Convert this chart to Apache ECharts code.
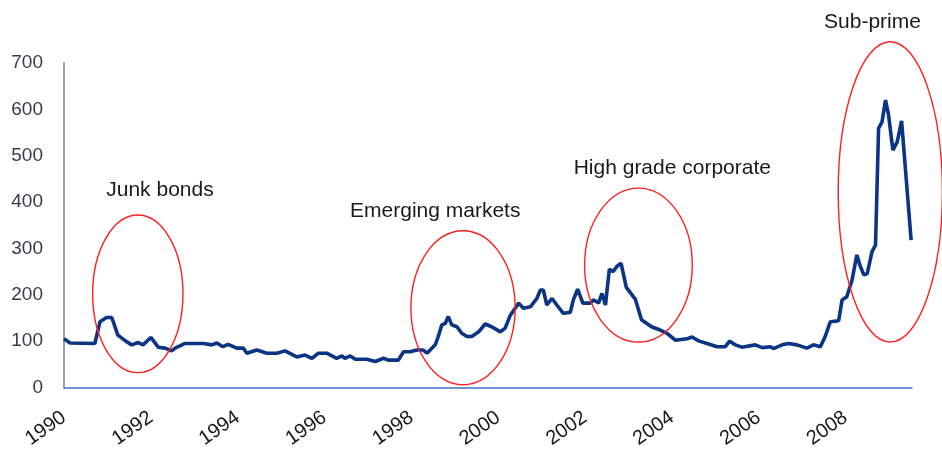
<!DOCTYPE html>
<html>
<head>
<meta charset="utf-8">
<script src="https://cdn.jsdelivr.net/npm/echarts@6/dist/echarts.min.js"></script>
<style>
  html, body { margin: 0; padding: 0; background: #fff; }
  #chart { width: 942px; height: 451px; }
</style>
</head>
<body>
<div id="chart"></div>
<script>
// Credit spread (basis points), sampled as decimal years
const dates = [
  1990.00, 1990.05, 1990.14, 1990.71, 1990.83, 1990.98, 1991.10, 1991.24, 1991.44, 1991.56,
  1991.71, 1991.82, 1992.00, 1992.17, 1992.33, 1992.48, 1992.56, 1992.79, 1993.21, 1993.40,
  1993.52, 1993.66, 1993.78, 1993.98, 1994.13, 1994.21, 1994.44, 1994.67, 1994.90, 1995.09,
  1995.36, 1995.55, 1995.71, 1995.86, 1996.05, 1996.28, 1996.40, 1996.47, 1996.59, 1996.71,
  1996.97, 1997.17, 1997.36, 1997.47, 1997.70, 1997.82, 1997.97, 1998.13, 1998.27, 1998.36,
  1998.55, 1998.62, 1998.70, 1998.78, 1998.85, 1998.93, 1999.05, 1999.16, 1999.28, 1999.39,
  1999.55, 1999.70, 1999.85, 2000.05, 2000.16, 2000.28, 2000.39, 2000.47, 2000.58, 2000.74,
  2000.89, 2000.97, 2001.04, 2001.12, 2001.24, 2001.35, 2001.50, 2001.66, 2001.73, 2001.83,
  2001.95, 2002.12, 2002.20, 2002.31, 2002.39, 2002.47, 2002.56, 2002.65, 2002.73, 2002.83,
  2002.95, 2003.16, 2003.30, 2003.53, 2003.73, 2003.89, 2004.08, 2004.35, 2004.46, 2004.63,
  2004.81, 2005.04, 2005.23, 2005.33, 2005.46, 2005.61, 2005.92, 2006.08, 2006.27, 2006.34,
  2006.54, 2006.69, 2006.88, 2007.11, 2007.26, 2007.42, 2007.53, 2007.65, 2007.84, 2007.92,
  2008.03, 2008.15, 2008.26, 2008.33, 2008.42, 2008.50, 2008.61, 2008.69, 2008.76, 2008.84,
  2008.92, 2008.99, 2009.09, 2009.19, 2009.29, 2009.51
];
const spread = [
  105, 102, 96, 95, 142, 151, 151, 113, 99, 92,
  97, 92, 108, 87, 85, 79, 85, 95, 95, 92,
  96, 88, 93, 85, 85, 74, 81, 74, 74, 79,
  66, 70, 63, 74, 74, 63, 68, 63, 68, 61,
  61, 56, 63, 59, 59, 77, 77, 81, 81, 74,
  92, 110, 135, 138, 153, 135, 131, 117, 110, 110,
  120, 137, 131, 120, 128, 156, 171, 182, 171, 174,
  192, 210, 210, 178, 192, 178, 160, 162, 189, 212,
  182, 182, 189, 182, 203, 178, 255, 250, 261, 268,
  216, 190, 146, 131, 124, 117, 102, 105, 109, 100,
  95, 88, 88, 100, 92, 87, 92, 86, 88, 84,
  92, 95, 92, 85, 92, 88, 110, 142, 144, 189,
  196, 232, 286, 264, 243, 246, 293, 307, 559, 573,
  620, 588, 512, 530, 575, 318
];

// Y axis range and x axis range
const yTicks = [0, 100, 200, 300, 400, 500, 600, 700];
const xStart = 1990;
const xEnd = 2009.53;

// Annotated episodes: label position and circled region, in data units
const episodeNames = ['Junk bonds', 'Emerging markets', 'High grade corporate', 'Sub-prime'];
const labelYear   = [1992.21, 1998.55, 2004.01, 2008.62];
const labelValue  = [426, 381, 473, 788];
const ringYear    = [1991.70, 1999.19, 2003.23, 2009.03];
const ringValue   = [202, 172, 264, 422];
const ringHalfYr  = [1.04, 1.20, 1.24, 1.20];
const ringHalfVal = [170, 166, 166, 324];

const chart = echarts.init(document.getElementById('chart'), null, { renderer: 'canvas' });

const font = 'Liberation Sans, Arial, sans-serif';

chart.setOption({
  animation: false,
  backgroundColor: '#ffffff',
  grid: { left: 64, right: 30, top: 63, bottom: 63.5, containLabel: false },
  xAxis: {
    type: 'value',
    min: xStart,
    max: xEnd,
    interval: 2,
    axisLine: { show: true, lineStyle: { color: '#4472c4', width: 1.5 } },
    axisTick: { show: false },
    splitLine: { show: false },
    axisLabel: {
      rotate: 35,
      margin: 28,
      fontSize: 20,
      fontFamily: font,
      color: '#1a1a1a',
      showMaxLabel: false,
      formatter: v => (Math.abs(v - Math.round(v)) < 1e-6 && Math.round(v) % 2 === 0) ? String(Math.round(v)) : ''
    }
  },
  yAxis: {
    type: 'value',
    min: yTicks[0],
    max: yTicks[yTicks.length - 1],
    interval: 100,
    axisLine: { show: true, lineStyle: { color: '#7f7f7f', width: 1.5 } },
    axisTick: { show: false },
    splitLine: { show: false },
    axisLabel: { margin: 21, fontSize: 19, fontFamily: font, color: '#3a3a4a' }
  },
  series: [{
    type: 'line',
    data: dates.map((d, i) => [d, spread[i]]),
    showSymbol: false,
    lineStyle: { color: '#0b3484', width: 3.6 },
    z: 3
  }]
});

// Circles and captions for each episode
const elements = [];
episodeNames.forEach((name, i) => {
  const c = chart.convertToPixel({ gridIndex: 0 }, [ringYear[i], ringValue[i]]);
  const e = chart.convertToPixel({ gridIndex: 0 }, [ringYear[i] + ringHalfYr[i], ringValue[i] + ringHalfVal[i]]);
  elements.push({
    type: 'ellipse',
    shape: { cx: c[0], cy: c[1], rx: Math.abs(e[0] - c[0]), ry: Math.abs(c[1] - e[1]) },
    style: { fill: 'none', stroke: '#ff2020', lineWidth: 1.4 },
    z: 10
  });
  const t = chart.convertToPixel({ gridIndex: 0 }, [labelYear[i], labelValue[i]]);
  elements.push({
    type: 'text',
    x: t[0],
    y: t[1],
    style: {
      text: name,
      fontSize: 21,
      fontFamily: font,
      fill: '#1a1a1a',
      textAlign: 'center',
      textVerticalAlign: 'middle'
    },
    z: 10
  });
});
chart.setOption({ graphic: { elements } });
</script>
</body>
</html>
